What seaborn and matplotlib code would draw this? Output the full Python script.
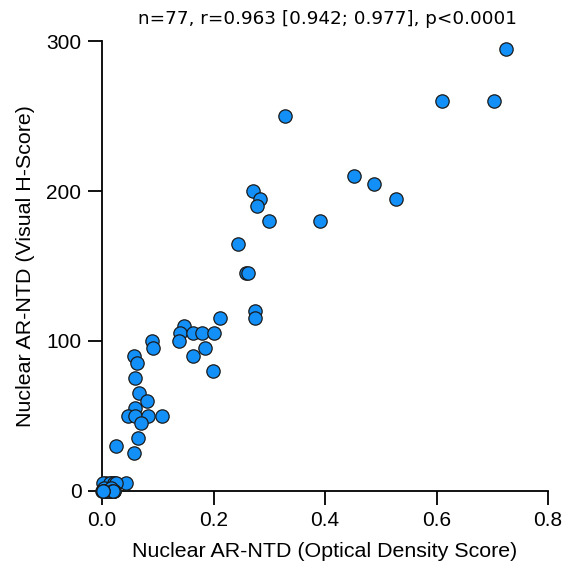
import matplotlib
matplotlib.use("Agg")
import matplotlib.pyplot as plt
import seaborn as sns
import pandas as pd

od_score = [
    0.725, 0.610, 0.703, 0.452, 0.487, 0.527, 0.391, 0.328,
    0.271, 0.283, 0.278, 0.300, 0.244, 0.258, 0.262, 0.275, 0.275,
    0.212, 0.147, 0.140, 0.164, 0.180, 0.200, 0.1375, 0.089, 0.092,
    0.184, 0.164, 0.199, 0.057, 0.062, 0.060, 0.067, 0.080, 0.059,
    0.047, 0.060, 0.083, 0.108, 0.070, 0.065, 0.025, 0.057,
    0.007, 0.0155, 0.0215, 0.043, 0.002, 0.014, 0.022, 0.026,
    0.000, 0.001, 0.003, 0.005, 0.008, 0.010, 0.012, 0.014, 0.015,
    0.016, 0.017, 0.018, 0.019, 0.020, 0.021, 0.022, 0.004, 0.006,
    0.009, 0.011, 0.013, 0.016, 0.018, 0.020, 0.002, 0.001,
]
h_score = [
    295, 260, 260, 210, 205, 195, 180, 250,
    200, 195, 190, 180, 165, 145, 145, 120, 115,
    115, 110, 105, 105, 105, 105, 100, 100, 95,
    95, 90, 80, 90, 85, 75, 65, 60, 55,
    50, 50, 50, 50, 45, 35, 30, 25,
    5, 5, 5, 5, 5, 5, 5, 5,
    0, 0, 0, 0, 0, 0, 0, 0, 0,
    0, 0, 0, 0, 0, 0, 0, 2, 0,
    0, 0, 0, 2, 0, 0, 0, 0,
]
x_ticks = [0.0, 0.2, 0.4, 0.6, 0.8]
y_ticks = [0, 100, 200, 300]
title_text = "n=77, r=0.963 [0.942; 0.977], p<0.0001"
x_label = "Nuclear AR-NTD (Optical Density Score)"
y_label = "Nuclear AR-NTD (Visual H-Score)"

df = pd.DataFrame({"od": od_score, "h": h_score})

sns.set_style("ticks")
plt.rcParams["font.family"] = ["Liberation Sans", "DejaVu Sans"]
plt.rcParams["text.color"] = "black"
plt.rcParams["axes.labelcolor"] = "black"

fig = plt.figure(figsize=(5.69, 5.71), dpi=100)
ax = fig.add_axes([102 / 569, 1 - 490.5 / 571, (548 - 102) / 569, (490.5 - 41.5) / 571])

sns.scatterplot(data=df, x="od", y="h", ax=ax, s=92, color="#1290f7",
                edgecolor="#1a1a1a", linewidth=0.9, clip_on=False, zorder=3)

ax.set_xlim(0, 0.8)
ax.set_ylim(0, 300)
ax.set_xticks(x_ticks)
ax.set_xticklabels([f"{t:.1f}" for t in x_ticks])
ax.set_yticks(y_ticks)
ax.set_yticklabels([str(t) for t in y_ticks])
for s in ["top", "right"]:
    ax.spines[s].set_visible(False)
for s in ["left", "bottom"]:
    ax.spines[s].set_linewidth(1.3)
    ax.spines[s].set_color("black")
ax.tick_params(axis="both", length=10, width=1.3, labelsize=15, colors="black")
ax.tick_params(axis="x", pad=5)
ax.tick_params(axis="y", pad=4.8)
ax.set_xlabel(x_label, fontsize=15.4, labelpad=8.3, color="black")
ax.set_ylabel(y_label, fontsize=15.4, labelpad=8.4, color="black")

fig.text(327.5 / 569, 1 - 19 / 571, title_text, ha="center", va="center",
         fontsize=13.2, family=["DejaVu Sans"], color="black")

fig.savefig("out.png", dpi=100)
